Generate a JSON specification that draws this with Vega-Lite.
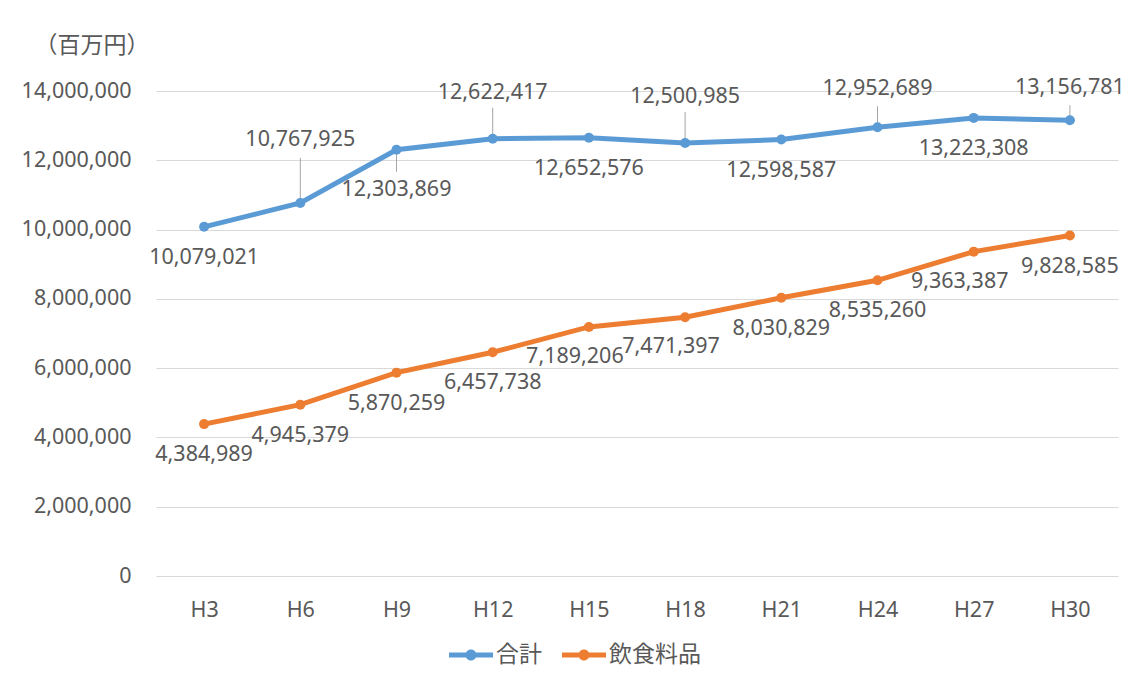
{
  "$schema": "https://vega.github.io/schema/vega-lite/v6.json",
  "autosize": {"type": "none"},
  "padding": {"left": 156, "top": 91, "right": 18, "bottom": 108},
  "width": 962,
  "height": 485,
  "background": "white",
  "config": {
    "view": {"stroke": null},
    "font": "Noto Sans, Noto Sans CJK JP",
    "legend": {
      "orient": "none",
      "legendX": 293,
      "legendY": 542,
      "direction": "horizontal",
      "padding": 0,
      "symbolType": "M-1,-0.11L1,-0.11L1,0.11L-1,0.11Z M0.25,0A0.25,0.25,0,1,1,-0.25,0A0.25,0.25,0,1,1,0.25,0Z",
      "symbolSize": 1936,
      "symbolStrokeWidth": 0,
      "labelFontSize": 23,
      "labelColor": "#595959",
      "labelFont": "Noto Sans CJK JP",
      "columnPadding": 20,
      "labelOffset": 3
    }
  },
  "data": {
    "values": [
      {"period": "H3", "series": "合計", "value": 10079021},
      {"period": "H6", "series": "合計", "value": 10767925},
      {"period": "H9", "series": "合計", "value": 12303869},
      {"period": "H12", "series": "合計", "value": 12622417},
      {"period": "H15", "series": "合計", "value": 12652576},
      {"period": "H18", "series": "合計", "value": 12500985},
      {"period": "H21", "series": "合計", "value": 12598587},
      {"period": "H24", "series": "合計", "value": 12952689},
      {"period": "H27", "series": "合計", "value": 13223308},
      {"period": "H30", "series": "合計", "value": 13156781},
      {"period": "H3", "series": "飲食料品", "value": 4384989},
      {"period": "H6", "series": "飲食料品", "value": 4945379},
      {"period": "H9", "series": "飲食料品", "value": 5870259},
      {"period": "H12", "series": "飲食料品", "value": 6457738},
      {"period": "H15", "series": "飲食料品", "value": 7189206},
      {"period": "H18", "series": "飲食料品", "value": 7471397},
      {"period": "H21", "series": "飲食料品", "value": 8030829},
      {"period": "H24", "series": "飲食料品", "value": 8535260},
      {"period": "H27", "series": "飲食料品", "value": 9363387},
      {"period": "H30", "series": "飲食料品", "value": 9828585}
    ]
  },
  "encoding": {
    "x": {
      "field": "period",
      "type": "ordinal",
      "sort": ["H3", "H6", "H9", "H12", "H15", "H18", "H21", "H24", "H27", "H30"],
      "scale": {"type": "point", "padding": 0.5},
      "axis": {
        "title": null,
        "domain": false,
        "ticks": false,
        "labelAngle": 0,
        "labelPadding": 23,
        "labelFontSize": 21.5,
        "labelColor": "#595959",
        "labelFont": "Noto Sans"
      }
    },
    "y": {
      "field": "value",
      "type": "quantitative",
      "scale": {"domain": [0, 14000000]},
      "axis": {
        "values": [0, 2000000, 4000000, 6000000, 8000000, 10000000, 12000000, 14000000],
        "format": ",d",
        "domain": false,
        "ticks": false,
        "gridColor": "#d9d9d9",
        "gridWidth": 1,
        "labelPadding": 25,
        "labelFontSize": 21.5,
        "labelColor": "#595959",
        "labelFont": "Noto Sans",
        "title": "（百万円）",
        "titleAngle": 0,
        "titleAlign": "left",
        "titleBaseline": "middle",
        "titleX": -122,
        "titleY": -46,
        "titleFont": "Noto Sans CJK JP",
        "titleFontSize": 23,
        "titleFontWeight": "normal",
        "titleColor": "#595959"
      }
    },
    "color": {
      "field": "series",
      "type": "nominal",
      "scale": {"domain": ["合計", "飲食料品"], "range": ["#5B9BD5", "#ED7D31"]},
      "legend": {"title": null}
    }
  },
  "layer": [
    {"mark": {"type": "line", "strokeWidth": 5}},
    {
      "transform": [{"filter": {"field": "period", "oneOf": ["H6"]}}, {"filter": {"field": "series", "equal": "合計"}}],
      "mark": {"type": "rule", "color": "#a6a6a6", "strokeWidth": 1, "yOffset": -3, "y2Offset": -45},
      "encoding": {"y2": {"field": "value"}, "color": {"value": "#a6a6a6"}}
    },
    {
      "transform": [{"filter": {"field": "period", "oneOf": ["H9"]}}, {"filter": {"field": "series", "equal": "合計"}}],
      "mark": {"type": "rule", "color": "#a6a6a6", "strokeWidth": 1, "yOffset": 2, "y2Offset": 22},
      "encoding": {"y2": {"field": "value"}, "color": {"value": "#a6a6a6"}}
    },
    {
      "transform": [{"filter": {"field": "period", "oneOf": ["H12", "H18"]}}, {"filter": {"field": "series", "equal": "合計"}}],
      "mark": {"type": "rule", "color": "#a6a6a6", "strokeWidth": 1, "yOffset": -1, "y2Offset": -31},
      "encoding": {"y2": {"field": "value"}, "color": {"value": "#a6a6a6"}}
    },
    {
      "transform": [{"filter": {"field": "period", "oneOf": ["H24"]}}, {"filter": {"field": "series", "equal": "合計"}}],
      "mark": {"type": "rule", "color": "#a6a6a6", "strokeWidth": 1, "yOffset": 0, "y2Offset": -21},
      "encoding": {"y2": {"field": "value"}, "color": {"value": "#a6a6a6"}}
    },
    {
      "transform": [{"filter": {"field": "period", "oneOf": ["H30"]}}, {"filter": {"field": "series", "equal": "合計"}}],
      "mark": {"type": "rule", "color": "#a6a6a6", "strokeWidth": 1, "yOffset": 0, "y2Offset": -15},
      "encoding": {"y2": {"field": "value"}, "color": {"value": "#a6a6a6"}}
    },
    {"mark": {"type": "point", "filled": true, "opacity": 1, "size": 100}},
    {
      "transform": [{"filter": {"field": "series", "equal": "合計"}}, {"filter": {"field": "period", "oneOf": ["H3", "H15", "H21", "H27"]}}],
      "mark": {"type": "text", "dy": 31, "fontSize": 21.5, "font": "Noto Sans", "baseline": "middle", "color": "#595959"},
      "encoding": {"text": {"field": "value", "type": "quantitative", "format": ",d"}, "color": {"value": "#595959"}}
    },
    {
      "transform": [{"filter": {"field": "series", "equal": "合計"}}, {"filter": {"field": "period", "oneOf": ["H9"]}}],
      "mark": {"type": "text", "dy": 40, "fontSize": 21.5, "font": "Noto Sans", "baseline": "middle", "color": "#595959"},
      "encoding": {"text": {"field": "value", "type": "quantitative", "format": ",d"}, "color": {"value": "#595959"}}
    },
    {
      "transform": [{"filter": {"field": "series", "equal": "合計"}}, {"filter": {"field": "period", "oneOf": ["H6"]}}],
      "mark": {"type": "text", "dy": -63, "fontSize": 21.5, "font": "Noto Sans", "baseline": "middle", "color": "#595959"},
      "encoding": {"text": {"field": "value", "type": "quantitative", "format": ",d"}, "color": {"value": "#595959"}}
    },
    {
      "transform": [{"filter": {"field": "series", "equal": "合計"}}, {"filter": {"field": "period", "oneOf": ["H12", "H18"]}}],
      "mark": {"type": "text", "dy": -46, "fontSize": 21.5, "font": "Noto Sans", "baseline": "middle", "color": "#595959"},
      "encoding": {"text": {"field": "value", "type": "quantitative", "format": ",d"}, "color": {"value": "#595959"}}
    },
    {
      "transform": [{"filter": {"field": "series", "equal": "合計"}}, {"filter": {"field": "period", "oneOf": ["H24"]}}],
      "mark": {"type": "text", "dy": -38, "fontSize": 21.5, "font": "Noto Sans", "baseline": "middle", "color": "#595959"},
      "encoding": {"text": {"field": "value", "type": "quantitative", "format": ",d"}, "color": {"value": "#595959"}}
    },
    {
      "transform": [{"filter": {"field": "series", "equal": "合計"}}, {"filter": {"field": "period", "oneOf": ["H30"]}}],
      "mark": {"type": "text", "dy": -32, "fontSize": 21.5, "font": "Noto Sans", "baseline": "middle", "color": "#595959"},
      "encoding": {"text": {"field": "value", "type": "quantitative", "format": ",d"}, "color": {"value": "#595959"}}
    },
    {
      "transform": [{"filter": {"field": "series", "equal": "飲食料品"}}, {"filter": {"field": "period", "oneOf": ["H3", "H6", "H9", "H12", "H21", "H24", "H30"]}}],
      "mark": {"type": "text", "dy": 31, "fontSize": 21.5, "font": "Noto Sans", "baseline": "middle", "color": "#595959"},
      "encoding": {"text": {"field": "value", "type": "quantitative", "format": ",d"}, "color": {"value": "#595959"}}
    },
    {
      "transform": [{"filter": {"field": "series", "equal": "飲食料品"}}, {"filter": {"field": "period", "oneOf": ["H15", "H18", "H27"]}}],
      "mark": {"type": "text", "dx": -14, "dy": 30, "fontSize": 21.5, "font": "Noto Sans", "baseline": "middle", "color": "#595959"},
      "encoding": {"text": {"field": "value", "type": "quantitative", "format": ",d"}, "color": {"value": "#595959"}}
    }
  ]
}
